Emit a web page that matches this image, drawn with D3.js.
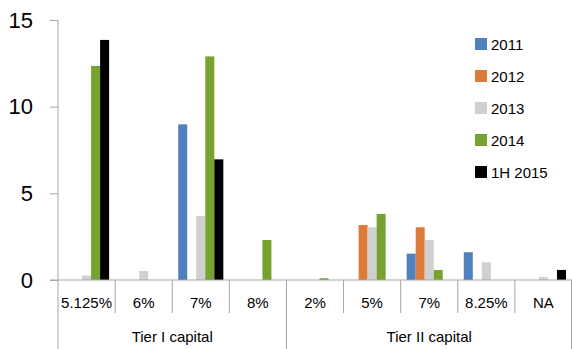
<!DOCTYPE html>
<html>
<head>
<meta charset="utf-8">
<script src="https://cdn.jsdelivr.net/npm/d3@7"></script>
<style>
  body { margin: 0; background: #fff; }
  svg { display: block; font-family: "Liberation Sans", Arial, sans-serif; }
</style>
</head>
<body>
<svg id="chart" width="572" height="349"></svg>
<script>
// Issuance by coupon rate, grouped by capital tier
const categories = ["5.125%", "6%", "7%", "8%", "2%", "5%", "7% ", "8.25%", "NA"];
const categoryLabels = ["5.125%", "6%", "7%", "8%", "2%", "5%", "7%", "8.25%", "NA"];
const groups = [
  { name: "Tier I capital", from: 0, to: 4 },
  { name: "Tier II capital", from: 4, to: 9 }
];
const seriesNames = ["2011", "2012", "2013", "2014", "1H 2015"];
const seriesColors = ["#4f81bd", "#dd7c39", "#d0d0d0", "#78a22f", "#000000"];

const s2011 = [0, 0, 8.98, 0, 0, 0, 1.52, 1.6, 0];
const s2012 = [0, 0, 0, 0, 0, 3.17, 3.04, 0, 0];
const s2013 = [0.25, 0.52, 3.69, 0, 0, 3.04, 2.31, 1.02, 0.17];
const s2014 = [12.35, 0, 12.9, 2.31, 0.1, 3.81, 0.58, 0, 0];
const s1H2015 = [13.85, 0, 6.96, 0, 0, 0, 0, 0, 0.58];
const seriesValues = [s2011, s2012, s2013, s2014, s1H2015];

const yTicks = [0, 5, 10, 15];

const svg = d3.select("#chart");
const plotLeft = 58, plotRight = 572, plotTop = 20, plotBase = 280;

const x0 = d3.scaleBand().domain(categories).range([plotLeft, plotRight]);
const bw = x0.bandwidth();
const x1 = d3.scaleBand().domain(seriesNames).range([bw * 0.105, bw * 0.895]);
const y = d3.scaleLinear().domain([0, 15]).range([plotBase, plotTop]);

const axisColor = "#a6a6a6";
const labelSize = 15;

// Bars
seriesNames.forEach((name, si) => {
  svg.append("g")
    .selectAll("rect")
    .data(seriesValues[si].map((v, i) => ({ v, c: categories[i] })).filter(d => d.v > 0))
    .join("rect")
    .attr("x", d => x0(d.c) + x1(name))
    .attr("width", x1.bandwidth())
    .attr("y", d => y(d.v))
    .attr("height", d => y(0) - y(d.v))
    .attr("fill", seriesColors[si]);
});

// Y axis
const yAxis = d3.axisLeft(y).tickValues(yTicks).tickSize(8).tickPadding(17);
const gy = svg.append("g").attr("transform", `translate(${plotLeft},0)`).call(yAxis);
gy.select(".domain").remove();
gy.selectAll(".tick line").attr("stroke", axisColor);
gy.selectAll(".tick text").attr("font-size", 22).attr("fill", "#000")
  .attr("font-family", "'Liberation Sans', Arial, sans-serif");
svg.append("line").attr("x1", plotLeft).attr("x2", plotLeft).attr("y1", plotTop).attr("y2", 349)
  .attr("stroke", axisColor);

// Baseline
svg.append("line").attr("x1", plotLeft - 8).attr("x2", plotRight).attr("y1", plotBase).attr("y2", plotBase)
  .attr("stroke", axisColor);

// Category separators and labels
categories.forEach((c, i) => {
  if (i > 0) {
    const gx = x0(c);
    const isGroupEdge = groups.some(g => g.from === i);
    svg.append("line").attr("x1", gx).attr("x2", gx)
      .attr("y1", plotBase).attr("y2", isGroupEdge ? 349 : 313)
      .attr("stroke", axisColor);
  }
  svg.append("text")
    .attr("x", x0(c) + bw / 2).attr("y", 308)
    .attr("text-anchor", "middle").attr("font-size", labelSize).attr("fill", "#000")
    .text(categoryLabels[i]);
});
svg.append("line").attr("x1", plotRight - 0.5).attr("x2", plotRight - 0.5)
  .attr("y1", plotBase).attr("y2", 349).attr("stroke", axisColor);

// Group labels
groups.forEach(g => {
  const gx0 = x0(categories[g.from]);
  const gx1 = g.to < categories.length ? x0(categories[g.to]) : plotRight;
  svg.append("text")
    .attr("x", (gx0 + gx1) / 2).attr("y", 342)
    .attr("text-anchor", "middle").attr("font-size", labelSize).attr("fill", "#000")
    .text(g.name);
});

// Legend
const legend = svg.append("g").attr("transform", "translate(475,44)");
seriesNames.forEach((name, i) => {
  const row = legend.append("g").attr("transform", `translate(0,${i * 32})`);
  row.append("rect").attr("x", 0).attr("y", -6).attr("width", 12).attr("height", 12)
    .attr("fill", seriesColors[i]);
  row.append("text").attr("x", 16).attr("y", 5.5).attr("font-size", labelSize).attr("fill", "#000")
    .text(name);
});
</script>
</body>
</html>
